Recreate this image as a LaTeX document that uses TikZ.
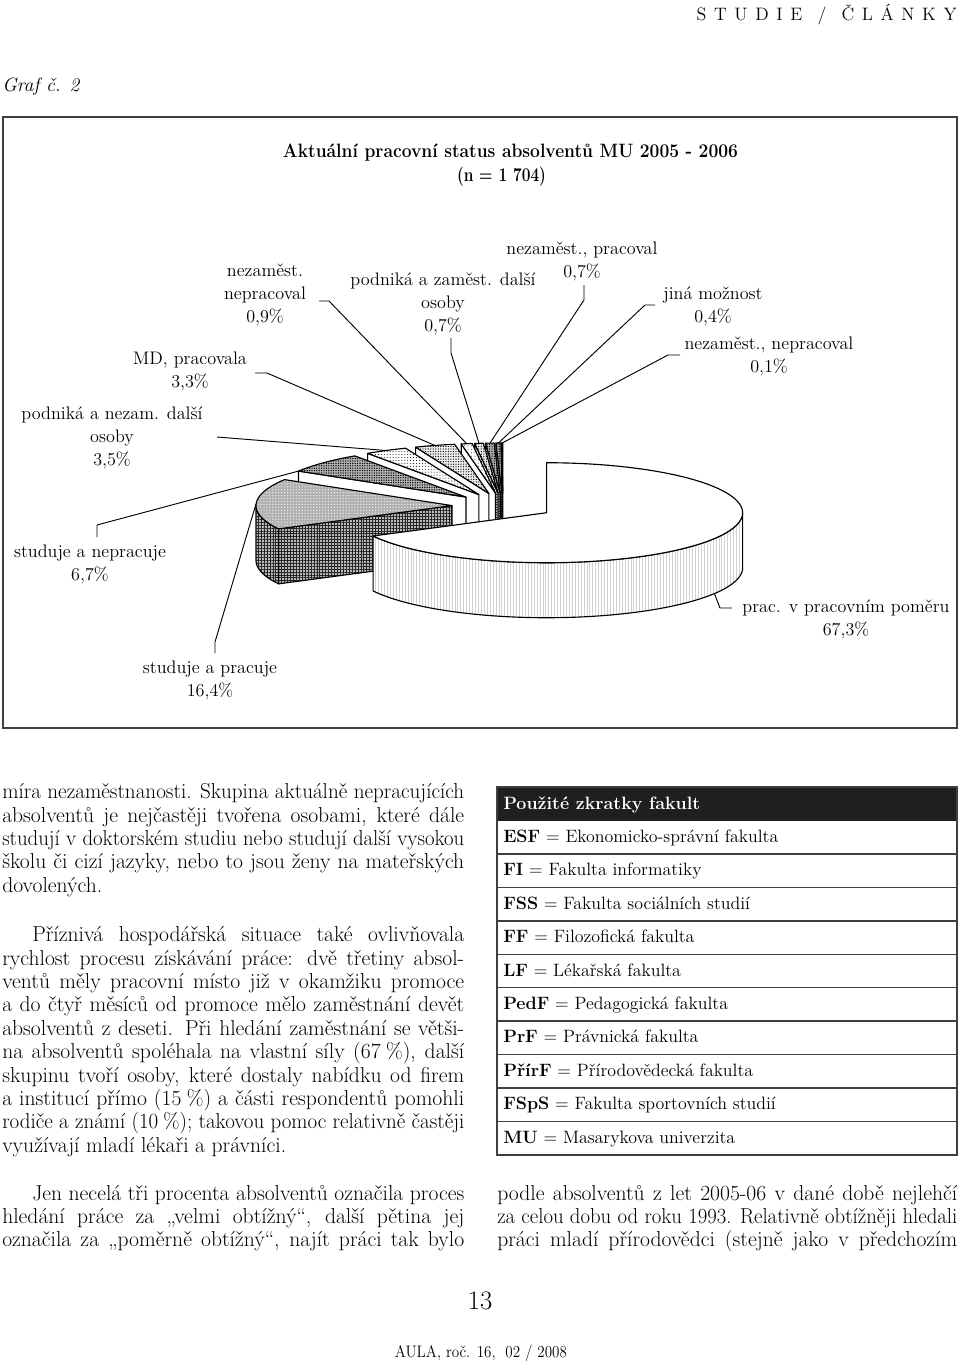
\documentclass[tikz,border=0pt]{standalone}
\usepackage{fontspec}
\usepackage{graphicx}
\usetikzlibrary{patterns,patterns.meta}
\newsavebox\flbox
\newcommand\fitline[2]{\sbox\flbox{#2}\ifdim\wd\flbox>#1\relax\resizebox{#1}{\ht\flbox}{\usebox\flbox}\else\makebox[#1][s]{#2}\fi}
\newcommand\bodyfont{\fontsize{16.2}{17.5}\selectfont}
\newcommand\lblfont{\fontsize{13.6}{17.25}\selectfont}
\newcommand\tabfont{\fontsize{13.4}{16}\selectfont}
\newcommand\slc[2]{\pgfmathsetmacro\pcx{503+51*cos((#1+#2)/2)}\pgfmathsetmacro\pcy{506-13*sin((#1+#2)/2)}}
\newcommand\topface[3]{\draw[#1] (\pcx,\pcy) -- plot[domain=#2:#3,samples=80,variable=\t] ({\pcx+196*cos(\t)},{\pcy-50*sin(\t)}) -- cycle;}
\newcommand\cutface[2]{\draw[#1] (\pcx,\pcy) -- ({\pcx+196*cos(#2)},{\pcy-50*sin(#2)}) -- ++(0,55) -- (\pcx,{\pcy+55}) -- cycle;}
\newcommand\sidewall[3]{\draw[#1] plot[domain=#2:#3,samples=80,variable=\t] ({\pcx+196*cos(\t)},{\pcy-50*sin(\t)}) -- plot[domain=#3:#2,samples=80,variable=\t] ({\pcx+196*cos(\t)},{\pcy+55-50*sin(\t)}) -- cycle;}
\tikzset{
 pie/.style={draw=black, line width=0.85pt, line join=round},
 pwhite/.style={pie, fill=white},
 pbigt/.style={pie, fill=white},
 pbigs/.style={pie, preaction={fill=white}, pattern={Lines[angle=90,distance=2.2pt,line width=0.25pt]}, pattern color=gray!35},
 p164t/.style={pie, preaction={fill=gray!62}, pattern={Dots[distance=2.2pt,radius=0.55pt]}, pattern color=white!85!gray},
 p164s/.style={pie, preaction={fill=gray!55}, pattern={Hatch[distance=2.2pt,line width=0.45pt]}, pattern color=black!85},
 p67/.style={pie, preaction={fill=gray!60}, pattern={Dots[distance=1.8pt,radius=0.55pt]}, pattern color=black},
 p35/.style={pie, preaction={fill=white}, pattern={Dots[distance=2.2pt,radius=0.38pt]}, pattern color=black},
 p33/.style={pie, preaction={fill=gray!15}, pattern={Dots[distance=1.9pt,radius=0.48pt]}, pattern color=black},
 p09/.style={pie, preaction={fill=white}, pattern={Dots[distance=2.6pt,radius=0.35pt]}, pattern color=black},
 p09c/.style={pie, fill=white},
 p07b/.style={p33},
 p07a/.style={p67},
 p04/.style={pie, preaction={fill=gray!60}, pattern={Dots[distance=1.8pt,radius=0.6pt]}, pattern color=black},
 p01/.style={pie, preaction={fill=white}, pattern={Lines[angle=90,distance=1.5pt,line width=0.6pt]}, pattern color=black},
 lead/.style={draw=black, line width=0.7pt},
 lbl/.style={align=center, inner sep=0pt, font=\lblfont},
 body/.style={anchor=base west, inner sep=0pt, font=\bodyfont},
 tab/.style={anchor=base west, inner sep=0pt, font=\tabfont},
 tabline/.style={draw=black!75, line width=1.1pt},
}
\begin{document}
\begin{tikzpicture}[x=0.75pt,y=-0.75pt]
\useasboundingbox (0,0) rectangle (960,1361);
% header
\node[anchor=base east, inner sep=0pt, font=\fontsize{13.5}{16}\selectfont] (hdr) at (957,20) {\fitline{195pt}{S T U D I E \ / \ Č L Á N K Y}};
\node[anchor=base west, inner sep=0pt, font=\fontsize{14.5}{16}\selectfont\itshape] (graf) at (2,91) {Graf č. 2};
% frame
\draw[line width=1.1pt, draw=black!75] (3,117) rectangle (957,728);
\node[anchor=base, inner sep=0pt, font=\fontsize{14.5}{16}\selectfont\bfseries] (ttl1) at (510.5,157) {\fitline{341.25pt}{Aktuální pracovní status absolventů MU 2005 - 2006}};
\node[anchor=base, inner sep=0pt, font=\fontsize{14.5}{16}\selectfont\bfseries] (ttl2) at (501.5,181) {\fitline{66.75pt}{(n = 1 704)}};
% pie slices, back to front
\slc{90}{90.36} \cutface{p01}{90.36} \topface{p01}{90}{90.36}
\slc{90.36}{91.8} \cutface{p04}{91.8} \topface{p04}{90.36}{91.8}
\slc{91.8}{94.32} \cutface{p07a}{94.32} \topface{p07a}{91.8}{94.32}
\slc{94.32}{96.84} \cutface{p07b}{96.84} \topface{p07b}{94.32}{96.84}
\slc{96.84}{100.08} \cutface{p09c}{100.08} \topface{p09}{96.84}{100.08}
\slc{100.08}{111.96} \cutface{pwhite}{111.96} \topface{p33}{100.08}{111.96}
\slc{111.96}{124.56} \cutface{pwhite}{124.56} \topface{p35}{111.96}{124.56}
\slc{124.56}{148.68} \cutface{pwhite}{148.68} \topface{p67}{124.56}{148.68}
\slc{148.68}{207.72} \cutface{p164s}{207.72} \sidewall{p164s}{180}{207.72} \topface{p164t}{148.68}{207.72}
\slc{-152.28}{90} \sidewall{pbigs}{-152.28}{0} \topface{pbigt}{-152.28}{90}
% labels
\node[lbl] (l09) at (265,295) {nezaměst.\\nepracoval\\0,9\%};
\node[lbl] (l07b) at (443,304) {podniká a zaměst. další\\osoby\\0,7\%};
\node[lbl] (l07a) at (582,261) {nezaměst., pracoval\\0,7\%};
\node[lbl] (l04) at (713,306) {jiná možnost\\0,4\%};
\node[lbl] (l01) at (769,356) {nezaměst., nepracoval\\0,1\%};
\node[lbl] (l33) at (190,371) {MD, pracovala\\3,3\%};
\node[lbl] (l35) at (112,438) {podniká a nezam. další\\osoby\\3,5\%};
\node[lbl] (l67) at (90,564) {studuje a nepracuje\\6,7\%};
\node[lbl] (l673) at (846,619) {prac. v pracovním poměru\\67,3\%};
\node[lbl] (l164) at (210,680) {studuje a pracuje\\16,4\%};
% leader end points
\coordinate (s09) at (319,301); \coordinate (e09) at (466.7,443.7);
\coordinate (s07b) at (451,338); \coordinate (e07b) at (479,443.3);
\coordinate (s07a) at (584,285); \coordinate (e07a) at (490,443.1);
\coordinate (s04) at (655,305); \coordinate (e04) at (498.4,443);
\coordinate (s01) at (680,355); \coordinate (e01) at (502.2,443);
\coordinate (s33) at (255,373); \coordinate (e33) at (434.8,445.4);
\coordinate (s35) at (217,437); \coordinate (e35) at (386,450.5);
\coordinate (s67) at (97,537); \coordinate (e67) at (298.4,471.1);
\coordinate (s164) at (215,653); \coordinate (e164) at (256,504);
\coordinate (s673) at (732,608); \coordinate (e673) at (714.4,593.5);
\draw[lead] (s09) -- ++(10,0) -- (e09);
\draw[lead] (s07b) -- ++(0,15) -- (e07b);
\draw[lead] (s07a) -- ++(0,15) -- (e07a);
\draw[lead] (s04) -- ++(-10,0) -- (e04);
\draw[lead] (s01) -- ++(-12,0) -- (e01);
\draw[lead] (s33) -- ++(12,0) -- (e33);
\draw[lead] (s35) -- (e35);
\draw[lead] (s67) -- ++(0,-12) -- (e67);
\draw[lead] (s164) -- ++(0,-11) -- (e164);
\draw[lead] (s673) -- ++(-12,0) -- (e673);
% left column
\node[body] (a1) at (2,798) {\fitline{346.5pt}{míra nezaměstnanosti. Skupina aktuálně nepracujících}};
\node[body] (a2) at (2,822) {\fitline{346.5pt}{absolventů je nejčastěji tvořena osobami, které dále}};
\node[body] (a3) at (2,845) {\fitline{346.5pt}{studují v doktorském studiu nebo studují další vysokou}};
\node[body] (a4) at (2,868) {\fitline{346.5pt}{školu či cizí jazyky, nebo to jsou ženy na mateřských}};
\node[body] (a5) at (2,892) {dovolených.};
\node[body] (b1) at (32,941.6) {\fitline{324pt}{Příznivá hospodářská situace také ovlivňovala}};
\node[body] (b2) at (2,965) {\fitline{346.5pt}{rychlost procesu získávání práce: dvě třetiny absol-}};
\node[body] (b3) at (2,988.4) {\fitline{346.5pt}{ventů měly pracovní místo již v okamžiku promoce}};
\node[body] (b4) at (2,1011.8) {\fitline{346.5pt}{a do čtyř měsíců od promoce mělo zaměstnání devět}};
\node[body] (b5) at (2,1035.2) {\fitline{346.5pt}{absolventů z deseti. Při hledání zaměstnání se větši-}};
\node[body] (b6) at (2,1058.6) {\fitline{346.5pt}{na absolventů spoléhala na vlastní síly (67\hspace{0.25em}\%), další}};
\node[body] (b7) at (2,1082) {\fitline{346.5pt}{skupinu tvoří osoby, které dostaly nabídku od firem}};
\node[body] (b8) at (2,1105.4) {\fitline{346.5pt}{a institucí přímo (15\hspace{0.25em}\%) a části respondentů pomohli}};
\node[body] (b9) at (2,1128.8) {\fitline{346.5pt}{rodiče a známí (10\hspace{0.25em}\%); takovou pomoc relativně častěji}};
\node[body] (b10) at (2,1152.2) {využívají mladí lékaři a právníci.};
\node[body] (c1) at (32,1200) {\fitline{324pt}{Jen necelá tři procenta absolventů označila proces}};
\node[body] (c2) at (2,1223) {\fitline{346.5pt}{hledání práce za „velmi obtížný“, další pětina jej}};
\node[body] (c3) at (2,1246) {\fitline{346.5pt}{označila za „poměrně obtížný“, najít práci tak bylo}};
% right column
\node[body] (d1) at (497,1200) {\fitline{345pt}{podle absolventů z let 2005-06 v dané době nejlehčí}};
\node[body] (d2) at (497,1223) {\fitline{345pt}{za celou dobu od roku 1993. Relativně obtížněji hledali}};
\node[body] (d3) at (497,1246) {\fitline{345pt}{práci mladí přírodovědci (stejně jako v předchozím}};
% table
\fill[black!88] (497,787) rectangle (957,820.5);
\foreach \k in {1,...,9} \draw[tabline] (497,{820.5+33.45*\k}) -- (957,{820.5+33.45*\k});
\draw[tabline] (497,787) rectangle (957,1155);
\node[tab, text=white, font=\tabfont\bfseries] (th) at (503,809) {Použité zkratky fakult};
\node[tab] (t1) at (503,842.2) {\textbf{ESF} = Ekonomicko-správní fakulta};
\node[tab] (t2) at (503,875.7) {\textbf{FI} = Fakulta informatiky};
\node[tab] (t3) at (503,909.1) {\textbf{FSS} = Fakulta sociálních studií};
\node[tab] (t4) at (503,942.6) {\textbf{FF} = Filozofická fakulta};
\node[tab] (t5) at (503,976) {\textbf{LF} = Lékařská fakulta};
\node[tab] (t6) at (503,1009.5) {\textbf{PedF} = Pedagogická fakulta};
\node[tab] (t7) at (503,1042.9) {\textbf{PrF} = Právnická fakulta};
\node[tab] (t8) at (503,1076.4) {\textbf{PřírF} = Přírodovědecká fakulta};
\node[tab] (t9) at (503,1109.8) {\textbf{FSpS} = Fakulta sportovních studií};
\node[tab] (t10) at (503,1143.3) {\textbf{MU} = Masarykova univerzita};
% footer
\node[anchor=base, inner sep=0pt, font=\fontsize{20}{24}\selectfont] (pg) at (480,1309) {13};
\node[anchor=base, inner sep=0pt, font=\fontsize{12.5}{15}\selectfont] (aula) at (481,1357) {\fitline{129pt}{AULA, roč. 16, \ 02 / 2008}};
\end{tikzpicture}
\end{document}
